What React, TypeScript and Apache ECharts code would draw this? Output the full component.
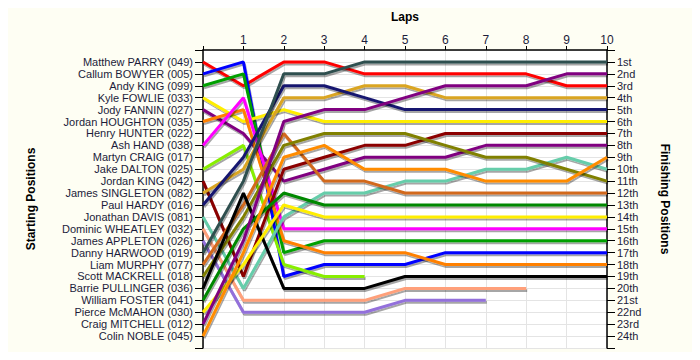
import React, { useEffect, useRef } from "react";
import * as echarts from "echarts";

const drivers = [
  "Matthew PARRY (049)",
  "Callum BOWYER (005)",
  "Andy KING (099)",
  "Kyle FOWLIE (033)",
  "Jody FANNIN (027)",
  "Jordan HOUGHTON (035)",
  "Henry HUNTER (022)",
  "Ash HAND (038)",
  "Martyn CRAIG (017)",
  "Jake DALTON (025)",
  "Jordan KING (042)",
  "James SINGLETON (082)",
  "Paul HARDY (016)",
  "Jonathan DAVIS (081)",
  "Dominic WHEATLEY (032)",
  "James APPLETON (026)",
  "Danny HARWOOD (019)",
  "Liam MURPHY (077)",
  "Scott MACKRELL (018)",
  "Barrie PULLINGER (036)",
  "William FOSTER (041)",
  "Pierce McMAHON (030)",
  "Craig MITCHELL (012)",
  "Colin NOBLE (045)",
];

const driverColors = [
  "#FF0000", "#0000FF", "#00A000", "#FFEE00", "#800080", "#FF8000",
  "#999999", "#FF00FF", "#999999", "#88EE00", "#8B0000", "#DAA520",
  "#191970", "#66CDAA", "#FFA07A", "#9370DB", "#2F4F4F", "#D2691E",
  "#808000", "#000000", "#008800", "#FFEE00", "#800080", "#FF8C00",
];

// position at lap 0 (start) .. lap 10
const lapPositions: number[][] = [
  [1, 3, 1, 1, 2, 2, 2, 2, 2, 3, 3],
  [2, 1, 19, 18, 18, 18, 17, 17, 17, 17, 17],
  [3, 2, 17, 16, 16, 16, 16, 16, 16, 16, 16],
  [4, 6, 5, 6, 6, 6, 6, 6, 6, 6, 6],
  [5, 7, 11, 10, 9, 9, 9, 8, 8, 8, 8],
  [6, 5, 16, 17, 17, 17, 18, 18, 18, 18, 18],
  [],
  [8, 4, 15, 15, 15, 15, 15, 15, 15, 15, 15],
  [],
  [10, 8, 18, 19, 19],
  [11, 19, 10, 9, 8, 8, 7, 7, 7, 7, 7],
  [12, 10, 4, 4, 3, 3, 4, 4, 4, 4, 4],
  [13, 9, 3, 3, 4, 5, 5, 5, 5, 5, 5],
  [14, 20, 14, 12, 12, 11, 11, 10, 10, 9, 10],
  [15, 21, 21, 21, 21, 20, 20, 20, 20],
  [16, 22, 22, 22, 22, 21, 21, 21],
  [17, 11, 2, 2, 1, 1, 1, 1, 1, 1, 1],
  [18, 13, 7, 11, 11, 12, 12, 12, 12, 12, 12],
  [19, 14, 8, 7, 7, 7, 8, 9, 9, 10, 11],
  [20, 12, 20, 20, 20, 19, 19, 19, 19, 19, 19],
  [21, 15, 12, 13, 13, 13, 13, 13, 13, 13, 13],
  [22, 18, 13, 14, 14, 14, 14, 14, 14, 14, 14],
  [23, 16, 6, 5, 5, 4, 3, 3, 3, 2, 2],
  [24, 17, 9, 8, 10, 10, 10, 11, 11, 11, 9],
];

const finishLabels = [
  "1st", "2nd", "3rd", "4th", "5th", "6th", "7th", "8th", "9th", "10th",
  "11th", "12th", "13th", "14th", "15th", "16th", "17th", "18th", "19th",
  "20th", "21st", "22nd", "23rd", "24th",
];

const FONT = "'Liberation Sans', Arial, sans-serif";
const TEXT = "#1C1C3A";

export default function App() {
  const ref = useRef<HTMLDivElement>(null);
  useEffect(() => {
    if (!ref.current) return;
    const chart = echarts.init(ref.current, undefined, { renderer: "svg" });
    const series = drivers.map((name, i) => ({
      name,
      type: "line",
      xAxisIndex: 0,
      yAxisIndex: 0,
      symbol: "none",
      data: lapPositions[i].map((p, lap) => [lap, p]),
      lineStyle: {
        width: 3,
        color: driverColors[i],
        shadowColor: "rgba(0,0,0,0.35)",
        shadowBlur: 1,
        shadowOffsetX: 1,
        shadowOffsetY: 2,
      },
      itemStyle: { color: driverColors[i] },
      emphasis: { disabled: true },
    }));
    chart.setOption({
      animation: false,
      backgroundColor: "#FEFEF3",
      textStyle: { fontFamily: FONT },
      grid: {
        left: 203,
        right: 93,
        top: 50,
        bottom: 12,
        show: true,
        backgroundColor: "#FFFFFF",
        borderWidth: 0,
      },
      xAxis: {
        type: "value",
        position: "top",
        min: 0,
        max: 10,
        interval: 1,
        name: "Laps",
        nameLocation: "middle",
        nameGap: 27,
        nameTextStyle: { fontWeight: "bold", fontSize: 12, color: "#000", fontFamily: FONT },
        axisLine: { show: true, onZero: false, lineStyle: { color: "#000", width: 1.5 } },
        axisTick: { show: true, length: 4, lineStyle: { color: "#000" } },
        axisLabel: {
          formatter: (v: number) => (v === 0 ? "" : String(v)),
          fontSize: 12,
          color: TEXT,
          margin: 4,
          fontFamily: FONT,
        },
        splitLine: { show: true, lineStyle: { color: "#E4E4E4", width: 1 } },
      },
      yAxis: [
        {
          type: "value",
          position: "left",
          min: 0,
          max: 25,
          interval: 1,
          inverse: true,
          name: "Starting Positions",
          nameLocation: "middle",
          nameGap: 166,
          nameRotate: 90,
          nameTextStyle: { fontWeight: "bold", fontSize: 12, color: "#000", fontFamily: FONT },
          axisLine: { show: true, onZero: false, lineStyle: { color: "#000", width: 1.5 } },
          axisTick: { show: true, length: 8, lineStyle: { color: "#000" } },
          axisLabel: {
            formatter: (v: number) => (v >= 1 && v <= drivers.length ? drivers[v - 1] : ""),
            fontSize: 11,
            color: TEXT,
            margin: 10,
            fontFamily: FONT,
          },
          splitLine: { show: true, lineStyle: { color: "#E4E4E4", width: 1 } },
        },
        {
          type: "value",
          position: "right",
          min: 0,
          max: 25,
          interval: 1,
          inverse: true,
          name: "Finishing Positions",
          nameLocation: "middle",
          nameGap: 52,
          nameRotate: -90,
          nameTextStyle: { fontWeight: "bold", fontSize: 12, color: "#000", fontFamily: FONT },
          axisLine: { show: true, onZero: false, lineStyle: { color: "#000", width: 1.5 } },
          axisTick: { show: true, length: 8, lineStyle: { color: "#000" } },
          axisLabel: {
            formatter: (v: number) =>
              v >= 1 && v <= finishLabels.length ? finishLabels[v - 1] : "",
            fontSize: 11,
            color: TEXT,
            margin: 10,
            fontFamily: FONT,
          },
          splitLine: { show: false },
        },
      ],
      series,
    });
    return () => chart.dispose();
  }, []);
  return <div ref={ref} style={{ width: 700, height: 360, margin: -8 }} />;
}
